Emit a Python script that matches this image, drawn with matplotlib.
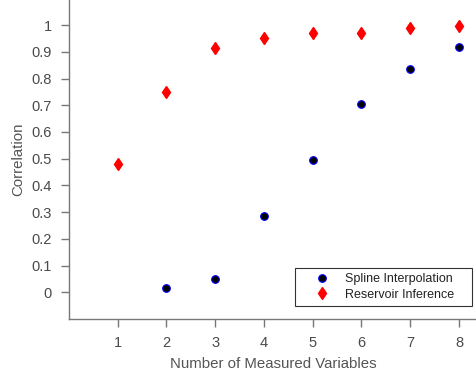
import matplotlib
matplotlib.use("Agg")
import matplotlib.pyplot as plt

plt.rcParams['font.family'] = ['Liberation Sans', 'DejaVu Sans']

spline_x = [2, 3, 4, 5, 6, 7, 8]
spline_y = [0.015, 0.049, 0.285, 0.497, 0.704, 0.835, 0.917]
res_x = [1, 2, 3, 4, 5, 6, 7, 8]
res_y = [0.479, 0.748, 0.913, 0.951, 0.969, 0.969, 0.988, 0.996]
xticks = [1, 2, 3, 4, 5, 6, 7, 8]
yticks = [0, 0.1, 0.2, 0.3, 0.4, 0.5, 0.6, 0.7, 0.8, 0.9, 1]

fig = plt.figure(figsize=(4.77, 3.79), dpi=100)
W, H = 477, 379
left, bottom = 69 / W, (H - 319) / H
ax = fig.add_axes([left, bottom, 1 - left, 1 - bottom])

ax.plot(spline_x, spline_y, 'o', color='black', markeredgecolor='blue',
        markeredgewidth=0.8, markersize=5.5, linestyle='none', label='Spline Interpolation')
ax.plot(res_x, res_y, 'd', color='red', markeredgecolor='red',
        markersize=6.5, linestyle='none', label='Reservoir Inference')

ax.set_xlim(0, 8.37)
ax.set_ylim(-0.1, 1.094)
ax.set_xticks(xticks)
ax.set_xticklabels([str(v) for v in xticks])
ax.set_yticks(yticks)
ax.set_yticklabels([f'{v:g}' for v in yticks])

for s in ['top', 'right']:
    ax.spines[s].set_visible(False)
for s in ['left', 'bottom']:
    ax.spines[s].set_color('#777777')
    ax.spines[s].set_linewidth(1.0)
ax.tick_params(direction='out', length=6, width=1, color='#777777',
               labelcolor='#4a4a4a', labelsize=10.5)
ax.tick_params(axis='x', pad=6)
ax.tick_params(axis='y', pad=6.5)
ax.set_xlabel('Number of Measured Variables', color='#555555', fontsize=10.8, labelpad=5)
ax.set_ylabel('Correlation', color='#555555', fontsize=10.8, labelpad=4)

leg = ax.legend(loc='lower left', bbox_to_anchor=(0.554, 0.041, 0.434, 0.12),
                mode='expand', frameon=True,
                fancybox=False, edgecolor='black', fontsize=9, handletextpad=0.1,
                borderpad=0.42, labelspacing=0.28, handlelength=3.5, borderaxespad=0)
leg.get_frame().set_linewidth(0.8)
for t in leg.get_texts():
    t.set_color('#222222')

fig.savefig('out.png', dpi=100)
